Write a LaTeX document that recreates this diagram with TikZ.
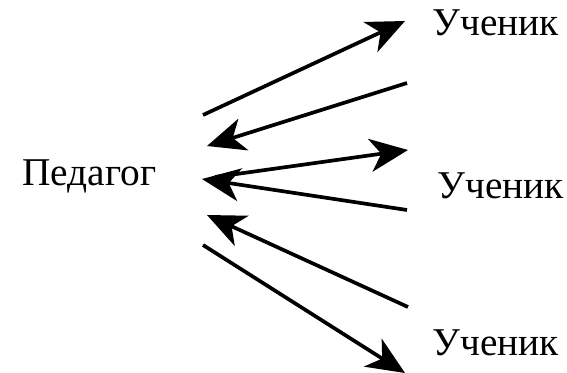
\documentclass[tikz,border=0pt]{standalone}
\usepackage{fontspec}
\setmainfont{Liberation Serif}
\usetikzlibrary{arrows.meta}

\begin{document}
\begin{tikzpicture}[
  x=0.02cm, y=-0.02cm,
  lbl/.style = {inner sep=0pt, anchor=base west, font=\fontsize{22.4}{26}\selectfont},
  arr/.style = {-{Stealth[length=0.76cm,width=0.66cm,inset=0.22cm]}, line width=2.1pt}
]
  \useasboundingbox (0,0) rectangle (567,372);

  \node[lbl] (ped)  at (22,185)  {Педагог};
  \node[lbl] (uch1) at (432,35)  {Ученик};
  \node[lbl] (uch2) at (437,198) {Ученик};
  \node[lbl] (uch3) at (432,355) {Ученик};

  % arrow ends
  \coordinate (ped1) at (203,115);  \coordinate (uch1a) at (405,21);
  \coordinate (ped2) at (207,146);  \coordinate (uch1b) at (407,83);
  \coordinate (ped3) at (215,177);  \coordinate (uch2a) at (408,150);
  \coordinate (ped4) at (202,179);  \coordinate (uch2b) at (407,210);
  \coordinate (ped5) at (207,215);  \coordinate (uch3a) at (408,307);
  \coordinate (ped6) at (203,245);  \coordinate (uch3b) at (405,373);

  \draw[arr] (ped1)  -- (uch1a);
  \draw[arr] (uch1b) -- (ped2);
  \draw[arr] (ped3)  -- (uch2a);
  \draw[arr] (uch2b) -- (ped4);
  \draw[arr] (uch3a) -- (ped5);
  \draw[arr] (ped6)  -- (uch3b);
\end{tikzpicture}
\end{document}
